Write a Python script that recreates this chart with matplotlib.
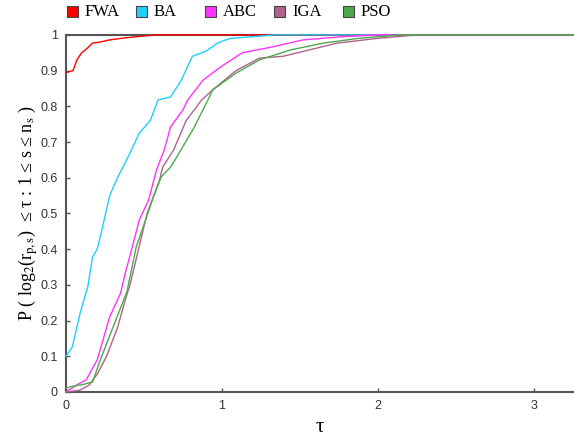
import matplotlib.pyplot as plt
from matplotlib.patches import Rectangle

# performance profile curves (tau, fraction of problems)
fwa_x = [0, 0.02, 0.045, 0.07, 0.1, 0.13, 0.17, 0.22, 0.28, 0.35, 0.43, 0.5, 0.58, 3.3]
fwa_y = [0.894, 0.897, 0.90, 0.93, 0.95, 0.96, 0.977, 0.98, 0.986, 0.99, 0.994, 0.997, 1.0, 1.0]

ba_x = [0, 0.04, 0.09, 0.12, 0.14, 0.17, 0.2, 0.24, 0.28, 0.33, 0.4, 0.47, 0.54, 0.59, 0.67,
        0.74, 0.81, 0.9, 0.97, 1.05, 1.2, 1.33, 3.3]
ba_y = [0.10, 0.126, 0.22, 0.266, 0.295, 0.378, 0.40, 0.473, 0.55, 0.60, 0.66, 0.725, 0.76,
        0.818, 0.826, 0.874, 0.94, 0.955, 0.977, 0.99, 0.995, 1.0, 1.0]

abc_x = [0, 0.07, 0.13, 0.2, 0.28, 0.35, 0.38, 0.42, 0.47, 0.53, 0.58, 0.63, 0.67, 0.75,
         0.78, 0.88, 0.99, 1.13, 1.33, 1.52, 1.78, 2.0, 3.3]
abc_y = [0.0, 0.02, 0.034, 0.09, 0.21, 0.277, 0.333, 0.398, 0.482, 0.538, 0.622, 0.678,
         0.742, 0.79, 0.818, 0.874, 0.91, 0.95, 0.967, 0.986, 0.995, 1.0, 1.0]

iga_x = [0, 0.09, 0.15, 0.2, 0.26, 0.33, 0.38, 0.41, 0.52, 0.6, 0.62, 0.69, 0.77, 0.87,
         0.94, 1.09, 1.24, 1.39, 1.56, 1.74, 1.99, 2.25, 3.3]
iga_y = [0.0, 0.005, 0.02, 0.05, 0.10, 0.18, 0.258, 0.30, 0.50, 0.594, 0.63, 0.678, 0.76,
         0.818, 0.846, 0.90, 0.935, 0.94, 0.958, 0.977, 0.99, 1.0, 1.0]

pso_x = [0, 0.03, 0.1, 0.17, 0.22, 0.3, 0.37, 0.39, 0.45, 0.51, 0.56, 0.61, 0.67, 0.71,
         0.82, 0.91, 0.94, 1.09, 1.24, 1.44, 1.65, 1.87, 2.14, 3.3]
pso_y = [0.01, 0.015, 0.02, 0.028, 0.09, 0.18, 0.258, 0.28, 0.406, 0.482, 0.546, 0.602,
         0.63, 0.658, 0.74, 0.818, 0.846, 0.893, 0.93, 0.958, 0.977, 0.99, 1.0, 1.0]

names = ["FWA", "BA", "ABC", "IGA", "PSO"]
colors = ["#ff0000", "#1ecfff", "#ff33ff", "#b0628a", "#4ea84e"]
curves = [(fwa_x, fwa_y), (ba_x, ba_y), (abc_x, abc_y), (iga_x, iga_y), (pso_x, pso_y)]

plt.rcParams["mathtext.fontset"] = "stix"
fig = plt.figure(figsize=(5.74, 4.36), dpi=100)
ax = fig.add_axes([0.115, 0.101, 0.885, 0.819])

for (x, y), c in zip(curves, colors):
    ax.plot(x, y, color=c, lw=1.0, zorder=3, clip_on=False)

ax.set_xlim(0, 3.256)
ax.set_ylim(0, 1)
ax.set_xticks([0, 1, 2, 3])
ax.set_yticks([i / 10 for i in range(11)])
ax.set_yticklabels(["0", "0.1", "0.2", "0.3", "0.4", "0.5", "0.6", "0.7", "0.8", "0.9", "1"])
ax.tick_params(direction="in", length=3, width=1, colors="#555555", labelcolor="#333333",
               labelsize=9, pad=6)
for lab in ax.get_xticklabels() + ax.get_yticklabels():
    lab.set_family("Liberation Sans")
for s in ["left", "bottom", "top"]:
    ax.spines[s].set_color("#555555")
    ax.spines[s].set_linewidth(1.5)
    ax.spines[s].set_zorder(1)
ax.spines["right"].set_visible(False)

ax.set_ylabel(r"P ( log$_2$(r$_{\mathrm{p,s}}$)  ≤ τ : 1 ≤ s ≤ n$_\mathrm{s}$ )",
              family=["Liberation Serif", "DejaVu Serif"], fontsize=13, labelpad=0)
ax.set_xlabel("τ", family=["Liberation Serif", "DejaVu Serif"], fontsize=15, labelpad=4)

# legend row at the top, fixed column pitch like the original
W, H = 574, 436
for i, (n, c) in enumerate(zip(names, colors)):
    x0 = 67 + 69 * i
    fig.patches.append(Rectangle((x0 / W, 1 - 17 / H), 11 / W, 11 / H, transform=fig.transFigure,
                                 facecolor=c, edgecolor="#444444", lw=0.8))
    fig.text((x0 + 18) / W, 1 - 11.5 / H, n, va="center", ha="left",
             family="Liberation Serif", fontsize=12)

fig.savefig("out.png", dpi=100)
